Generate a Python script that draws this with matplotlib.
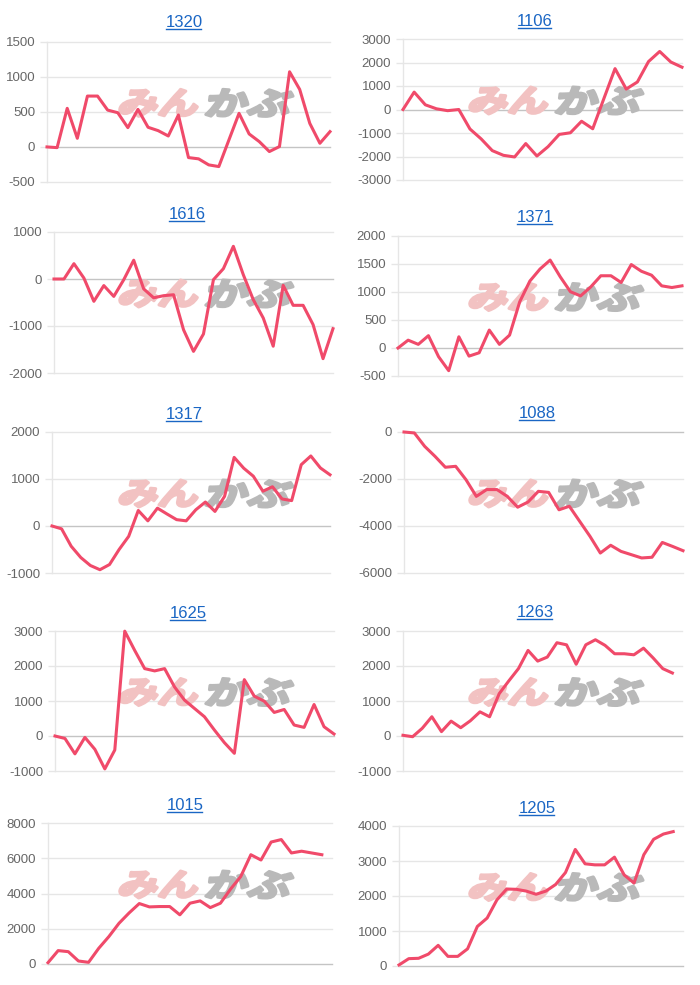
import matplotlib
matplotlib.use("Agg")
import matplotlib.pyplot as plt
from matplotlib.textpath import TextPath
from matplotlib.patches import PathPatch
from matplotlib.font_manager import FontProperties
from matplotlib.transforms import Affine2D
from matplotlib.lines import Line2D

plt.rcParams['font.family'] = ['Liberation Sans', 'DejaVu Sans']

codes = ["1320", "1106", "1616", "1371", "1317", "1088", "1625", "1263", "1015", "1205"]

s1320 = [0, -10, 550, 123, 725, 725, 525, 488, 275, 535, 280, 232, 156, 455, -152,
         -170, -256, -280, 100, 479, 185, 76, -66, 5, 1071, 820, 336, 52, 218]
s1106 = [0, 740, 200, 30, -50, 0, -830, -1250, -1750, -1950, -2020, -1450, -1980,
         -1580, -1060, -990, -500, -820, 465, 1740, 870, 1170, 2040, 2470, 2020, 1800]
s1616 = [0, 0, 326, 20, -475, -140, -370, -15, 400, -210, -400, -355, -335, -1080,
         -1540, -1170, -15, 220, 695, 90, -440, -830, -1430, -135, -560, -560, -970,
         -1695, -1057]
s1371 = [0, 140, 65, 220, -155, -405, 200, -145, -85, 320, 65, 230, 825, 1195, 1410,
         1570, 1270, 1005, 930, 1090, 1290, 1290, 1170, 1490, 1370, 1300, 1110, 1080, 1110]
s1317 = [0, -60, -430, -670, -840, -930, -820, -500, -220, 330, 110, 380, 255, 135, 110,
         345, 510, 310, 630, 1460, 1230, 1060, 740, 835, 575, 540, 1305, 1490, 1235, 1090]
s1088 = [0, -40, -610, -1035, -1500, -1460, -2030, -2740, -2450, -2450, -2740, -3200,
         -2980, -2525, -2570, -3310, -3160, -3800, -4440, -5150, -4820, -5080, -5220,
         -5360, -5330, -4700, -4870, -5050]
s1625 = [0, -70, -510, -40, -380, -940, -400, 2995, 2445, 1925, 1860, 1925, 1400, 1025,
         787, 550, 170, -190, -495, 1610, 1137, 995, 673, 758, 313, 246, 900, 265, 57]
s1263 = [20, -20, 220, 550, 125, 425, 237, 435, 690, 550, 1210, 1575, 1925, 2445, 2140,
         2255, 2665, 2605, 2050, 2605, 2750, 2590, 2350, 2350, 2320, 2510, 2230, 1925, 1800]
s1015 = [75, 760, 700, 170, 95, 890, 1555, 2310, 2900, 3430, 3240, 3260, 3260, 2790,
         3450, 3580, 3200, 3450, 4250, 4960, 6200, 5900, 6920, 7060, 6300, 6400, 6300, 6200]
s1205 = [30, 210, 220, 340, 590, 275, 275, 490, 1130, 1370, 1890, 2200, 2190, 2140, 2050,
         2140, 2330, 2670, 3330, 2920, 2890, 2890, 3110, 2600, 2370, 3180, 3620, 3770, 3840]

series = [s1320, s1106, s1616, s1371, s1317, s1088, s1625, s1263, s1015, s1205]
n_labels = [29, 26, 29, 29, 30, 28, 29, 30, 29, 30]

yticks = [
    [-500, 0, 500, 1000, 1500],
    [-3000, -2000, -1000, 0, 1000, 2000, 3000],
    [-2000, -1000, 0, 1000],
    [-500, 0, 500, 1000, 1500, 2000],
    [-1000, 0, 1000, 2000],
    [-6000, -4000, -2000, 0],
    [-1000, 0, 1000, 2000, 3000],
    [-1000, 0, 1000, 2000, 3000],
    [0, 2000, 4000, 6000, 8000],
    [0, 1000, 2000, 3000, 4000],
]

# plot areas in pixels: left, top, right, bottom
boxes = [
    (47, 41.7, 330, 182), (403, 39, 682, 180),
    (54, 232, 333, 373), (398, 236, 682, 376),
    (52, 432, 330, 573), (404, 432, 683, 573),
    (55, 631, 334, 771), (403, 631, 682, 771),
    (48, 823, 332, 964), (399, 826, 683, 966),
]
title_pos = [(184, 27), (535, 26), (187, 219), (535, 222), (184, 419),
             (537, 418), (188, 618), (535, 617), (185, 810), (537, 813)]

W, H = 700, 985
LINE = '#f04a6a'
GRID = '#e6e6e6'
ZERO = '#c4c4c4'
BLUE = '#1a66c4'

fig = plt.figure(figsize=(W / 100, H / 100), dpi=100)
fig.patch.set_facecolor('white')

jp = FontProperties(family='Noto Sans CJK JP', weight='bold')


def watermark(ax, x0, yc):
    # x0, yc in pixels (top-left origin)
    for txt, col, xs, w in [("みん", '#f2c2c2', x0, 77), ("かぶ", '#b9b9b9', x0 + 87, 83)]:
        tp = TextPath((0, 0), txt, size=1, prop=jp)
        bb = tp.get_extents()
        sx = w / bb.width / 100
        sy = 27 / bb.height / 100
        tr = (Affine2D().translate(-bb.x0, -bb.y0).scale(sx, sy).skew_deg(14, 0)
              .translate(xs / 100, (H - yc - 13.5) / 100) + fig.dpi_scale_trans)
        p = PathPatch(tp, facecolor=col, edgecolor=col, lw=2.2, joinstyle='round',
                      transform=tr, zorder=1, clip_on=False)
        ax.add_artist(p)


titles = []
for i, code in enumerate(codes):
    l, t, r, b = boxes[i]
    ax = fig.add_axes([l / W, 1 - b / H, (r - l) / W, (b - t) / H])
    ax.set_facecolor('none')
    vals = series[i]
    ticks = yticks[i]
    for y in ticks:
        ax.axhline(y, color=ZERO if y == 0 else GRID, lw=1, zorder=0.5, clip_on=False)
    ax.plot(range(len(vals)), vals, color=LINE, lw=2.2, zorder=3, clip_on=False,
            solid_joinstyle='round')
    ax.set_xlim(0, n_labels[i] - 1)
    ax.set_ylim(ticks[0], ticks[-1])
    ax.set_xticks([])
    ax.set_yticks(ticks)
    ax.set_yticklabels([str(v) for v in ticks])
    ax.tick_params(axis='y', length=5, width=1, color=GRID, pad=3.5,
                   labelsize=9.5, labelcolor='#666666')
    for s in ['top', 'right', 'bottom']:
        ax.spines[s].set_visible(False)
    ax.spines['left'].set_color(GRID)
    ax.spines['left'].set_linewidth(1)

    col_off = 0 if i % 2 == 0 else 350
    watermark(ax, col_off + 118, (t + b) / 2 - 9)

    tx, ty = title_pos[i]
    tt = fig.text(tx / W, 1 - ty / H, code, ha='center', va='baseline',
                  fontsize=12, color=BLUE)
    titles.append(tt)

fig.canvas.draw()
rend = fig.canvas.get_renderer()
for tt in titles:
    bb = tt.get_window_extent(renderer=rend)
    x0, x1 = (bb.x0 + 0.5) / W, (bb.x1 - 1.5) / W
    yb = tt.get_position()[1] - 2.2 / H
    fig.add_artist(Line2D([x0, x1], [yb, yb], color=BLUE, lw=1))

fig.savefig('out.png', dpi=100, facecolor='white')
